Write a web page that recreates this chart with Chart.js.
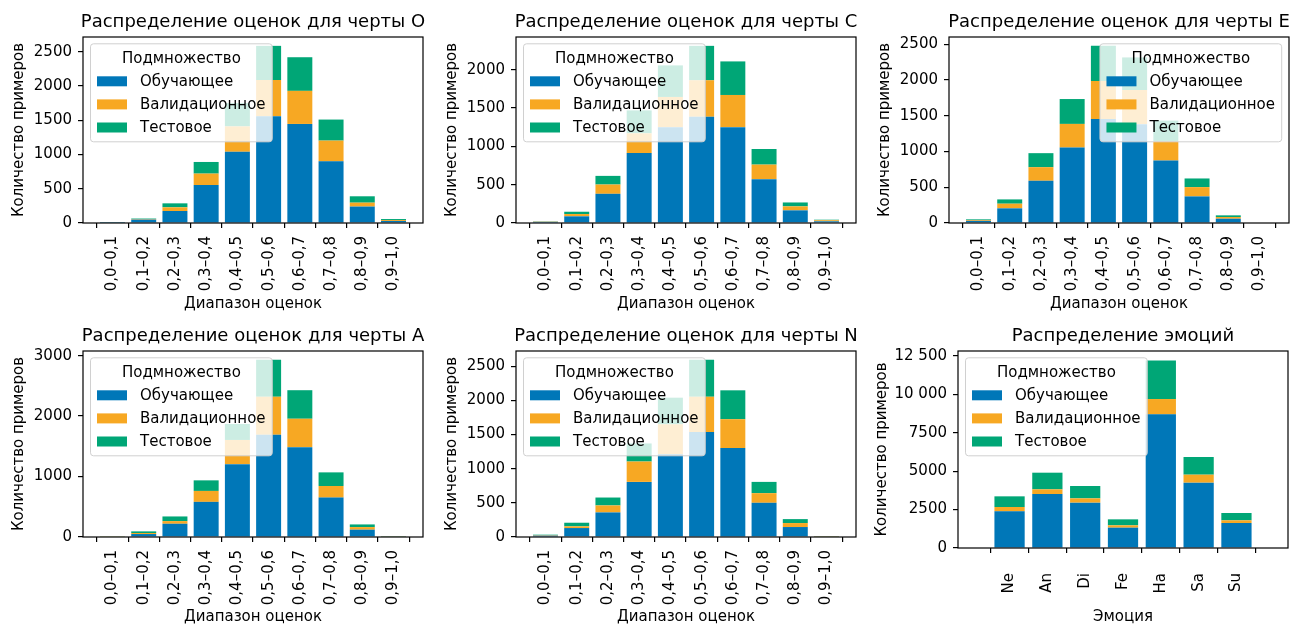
<!DOCTYPE html>
<html lang="ru">
<head>
<meta charset="UTF-8">
<title>Распределение оценок и эмоций</title>
<script src="https://cdn.jsdelivr.net/npm/chart.js"></script>
<style>
    html, body { margin: 0; padding: 0; background: #fff; overflow: hidden; }
    body { width: 1311px; height: 625px; position: relative; }
    canvas { position: absolute; }
</style>
</head>
<body>
<canvas id="chartO"></canvas>
<canvas id="chartC"></canvas>
<canvas id="chartE"></canvas>
<canvas id="chartA"></canvas>
<canvas id="chartN"></canvas>
<canvas id="chartEmo"></canvas>
<script>
    const scoreBins = ['0,0–0,1', '0,1–0,2', '0,2–0,3', '0,3–0,4', '0,4–0,5',
                       '0,5–0,6', '0,6–0,7', '0,7–0,8', '0,8–0,9', '0,9–1,0'];
    const emotions = ['Ne', 'An', 'Di', 'Fe', 'Ha', 'Sa', 'Su'];
    const subsets = ['Обучающее', 'Валидационное', 'Тестовое'];
    const subsetColors = ['#0077b8', '#f7a823', '#00a676'];

    // trait O
    const trainO = [2, 50, 175, 555, 1040, 1560, 1446, 900, 240, 30];
    const valO   = [1, 8, 54, 166, 370, 526, 483, 303, 57, 14];
    const testO  = [1, 7, 58, 170, 340, 500, 491, 307, 93, 14];
    // trait C
    const trainC = [15, 87, 381, 912, 1250, 1386, 1251, 572, 165, 22];
    const valC   = [4, 30, 121, 258, 395, 476, 420, 190, 52, 14];
    const testC  = [3, 30, 113, 300, 412, 450, 438, 204, 51, 7];
    // trait E
    const trainE = [30, 205, 591, 1056, 1455, 1383, 874, 372, 60, 0];
    const valE   = [11, 65, 190, 330, 530, 477, 270, 130, 24, 0];
    const testE  = [10, 60, 196, 348, 493, 456, 288, 121, 23, 0];
    // trait A
    const trainA = [10, 49, 219, 581, 1205, 1690, 1485, 652, 121, 8];
    const valA   = [3, 17, 44, 181, 400, 630, 471, 192, 43, 4];
    const testA  = [3, 27, 77, 175, 265, 610, 472, 225, 44, 4];
    // trait N
    const trainN = [20, 131, 360, 807, 1210, 1537, 1302, 501, 146, 7];
    const valN   = [7, 25, 102, 298, 440, 517, 423, 141, 58, 5];
    const testN  = [7, 53, 116, 265, 390, 540, 423, 165, 58, 3];
    // emotions
    const trainEmo = [2387, 3515, 2951, 1324, 8702, 4253, 1628];
    const valEmo   = [282, 304, 282, 152, 998, 521, 173];
    const testEmo  = [695, 1085, 803, 390, 2517, 1150, 478];

    Chart.defaults.font.family = '"DejaVu Sans", sans-serif';
    Chart.defaults.font.size = 15;
    Chart.defaults.color = '#000';

    // title, spines and legend drawn over the plot area, like matplotlib
    const subsetLegend = {
        id: 'subsetLegend',
        afterDraw(chart, args, opts) {
            const ctx = chart.ctx;
            const a = chart.chartArea;
            ctx.save();
            ctx.strokeStyle = '#000';
            ctx.lineWidth = 1.2;
            ctx.strokeRect(a.left, a.top, a.right - a.left, a.bottom - a.top);

            ctx.fillStyle = '#000';
            ctx.textBaseline = 'middle';
            ctx.textAlign = 'center';
            ctx.font = '18px "DejaVu Sans"';
            ctx.fillText(opts.title, (a.left + a.right) / 2, opts.titleY);

            ctx.font = '15px "DejaVu Sans"';
            const textW = Math.max(...subsets.map(s => ctx.measureText(s).width));
            const w = 49.5 + textW + 6.7;
            const h = 98;
            const x = opts.side === 'right' ? a.right - 7.3 - w : a.left + 7.5;
            const y = a.top + 6.8;

            ctx.beginPath();
            ctx.roundRect(x, y, w, h, 3);
            ctx.fillStyle = 'rgba(255,255,255,0.8)';
            ctx.fill();
            ctx.strokeStyle = '#d0d0d0';
            ctx.lineWidth = 1;
            ctx.stroke();

            ctx.fillStyle = '#000';
            ctx.fillText('Подмножество', x + w / 2, y + 15);
            ctx.textAlign = 'left';
            subsets.forEach((s, i) => {
                const cy = y + 37.5 + 23.1 * i;
                ctx.fillStyle = subsetColors[i];
                ctx.fillRect(x + 6.5, cy - 5, 30, 10);
                ctx.fillStyle = '#000';
                ctx.fillText(s, x + 49.5, cy + 1);
            });
            ctx.restore();
        }
    };

    function fmt(v) {
        return v >= 10000 ? String(v).replace(/\B(?=(\d{3})+(?!\d))/g, ' ') : String(v);
    }

    function makeChart(id, g) {
        const canvas = document.getElementById(id);
        canvas.width = g.yw + g.plotW + 12;
        canvas.height = g.canvasH;
        canvas.style.left = (g.plotLeft - g.yw) + 'px';
        canvas.style.top = g.rowTop + 'px';

        const totals = g.labels.map((_, i) => g.series[0][i] + g.series[1][i] + g.series[2][i]);
        const yMax = Math.max(...totals) * 1.05;
        const n = g.labels.length;
        const xMin = g.margin ? -0.4 - 0.05 * (n - 0.2) : -0.4;
        const xMax = g.margin ? n - 0.6 + 0.05 * (n - 0.2) : n - 0.6;

        new Chart(canvas, {
            type: 'bar',
            data: {
                datasets: subsets.map((s, k) => ({
                    label: s,
                    data: g.series[k].map((v, i) => ({ x: i, y: v })),
                    backgroundColor: subsetColors[k],
                    borderWidth: 0,
                    barPercentage: 1,
                    categoryPercentage: 0.8
                }))
            },
            plugins: [subsetLegend],
            options: {
                responsive: false,
                animation: false,
                devicePixelRatio: 1,
                layout: { padding: { left: 0, right: 12, top: g.topH, bottom: 0 } },
                plugins: {
                    legend: { display: false },
                    tooltip: { enabled: false },
                    title: { display: false },
                    subsetLegend: { side: g.legendSide, title: g.title, titleY: g.titleY }
                },
                scales: {
                    x: {
                        type: 'linear',
                        stacked: true,
                        bounds: 'data',
                        min: xMin,
                        max: xMax,
                        border: { display: false },
                        grid: { drawOnChartArea: false, drawTicks: true, tickLength: 5, color: '#000', lineWidth: 1.2 },
                        ticks: {
                            autoSkip: false,
                            minRotation: 90,
                            maxRotation: 90,
                            padding: g.xTickPad,
                            color: '#000',
                            font: { size: 15 },
                            callback: v => g.labels[v]
                        },
                        title: {
                            display: true,
                            text: g.xTitle,
                            color: '#000',
                            font: { size: 15, lineHeight: 1 },
                            padding: { top: 0, bottom: g.xTitlePad }
                        },
                        afterBuildTicks: axis => { axis.ticks = g.labels.map((_, i) => ({ value: i })); },
                        afterFit: axis => { axis.height = g.xh; axis.paddingLeft = 0; axis.paddingRight = 0; }
                    },
                    y: {
                        stacked: true,
                        bounds: 'data',
                        min: 0,
                        max: yMax,
                        border: { display: false },
                        grid: { drawOnChartArea: false, drawTicks: true, tickLength: 5, color: '#000', lineWidth: 1.2 },
                        ticks: { padding: 6, color: '#000', font: { size: 15 }, callback: v => fmt(v) },
                        title: {
                            display: true,
                            text: 'Количество примеров',
                            color: '#000',
                            font: { size: 15, lineHeight: 1 },
                            padding: { top: 2, bottom: 0 }
                        },
                        afterBuildTicks: axis => {
                            const t = [];
                            for (let v = 0; v <= yMax; v += g.step) t.push({ value: v });
                            axis.ticks = t;
                        },
                        afterFit: axis => { axis.width = g.yw; axis.paddingTop = 0; axis.paddingBottom = 0; }
                    }
                }
            }
        });
    }

    const row1 = { rowTop: 0, canvasH: 312, topH: 37, titleY: 22.2, xh: 89, xTickPad: 8, xTitlePad: 0.5 };
    const row2 = { rowTop: 312, canvasH: 313, topH: 39, titleY: 24.2, xh: 88, xTickPad: 8, xTitlePad: 0 };
    const traitAxis = { labels: scoreBins, xTitle: 'Диапазон оценок', yw: 73, plotW: 340 };

    makeChart('chartO', { ...row1, ...traitAxis, plotLeft: 83, step: 500, legendSide: 'left',
        title: 'Распределение оценок для черты O', series: [trainO, valO, testO] });
    makeChart('chartC', { ...row1, ...traitAxis, plotLeft: 516, step: 500, legendSide: 'left',
        title: 'Распределение оценок для черты C', series: [trainC, valC, testC] });
    makeChart('chartE', { ...row1, ...traitAxis, plotLeft: 949, step: 500, legendSide: 'right',
        title: 'Распределение оценок для черты E', series: [trainE, valE, testE] });
    makeChart('chartA', { ...row2, ...traitAxis, plotLeft: 83, step: 1000, legendSide: 'left',
        title: 'Распределение оценок для черты A', series: [trainA, valA, testA] });
    makeChart('chartN', { ...row2, ...traitAxis, plotLeft: 516, step: 500, legendSide: 'left',
        title: 'Распределение оценок для черты N', series: [trainN, valN, testN] });
    makeChart('chartEmo', { ...row2, labels: emotions, xTitle: 'Эмоция', yw: 85, plotW: 330, plotLeft: 958,
        xh: 77, xTickPad: 20, margin: true, step: 2500, legendSide: 'left',
        title: 'Распределение эмоций', series: [trainEmo, valEmo, testEmo] });
</script>
</body>
</html>
